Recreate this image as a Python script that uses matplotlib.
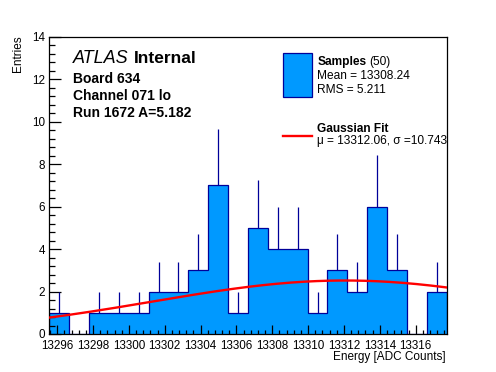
import numpy as np
import matplotlib
matplotlib.use("Agg")
import matplotlib.pyplot as plt
from matplotlib.patches import Rectangle
from matplotlib.lines import Line2D
from matplotlib.ticker import MultipleLocator

plt.rcParams['font.family'] = ['Liberation Sans', 'DejaVu Sans']

# ---- data ----
x_min, x_max = 13295.56, 13317.73
counts = [1, 0, 1, 1, 1, 2, 2, 3, 7, 1, 5, 4, 4, 1, 3, 2, 6, 3, 0, 2]
fit_amp = 2.52
fit_mu = 13312.06
fit_sigma = 10.743
n_samples = 50
mean_val = 13308.24
rms_val = 5.211
board_lines = ["Board 634", "Channel 071 lo", "Run 1672 A=5.182"]

W, H = 496, 372
fig = plt.figure(figsize=(W / 100, H / 100), dpi=100)
ax = fig.add_axes([49.3 / W, 1 - 334 / H, (446.7 - 49.3) / W, (334 - 36.8) / H])
renderer = fig.canvas.get_renderer()

counts = np.array(counts, dtype=float)
edges = np.linspace(x_min, x_max, len(counts) + 1)
centers = 0.5 * (edges[:-1] + edges[1:])

fill_c = '#0099ff'
edge_c = '#000099'
ax.stairs(counts, edges, fill=True, color=fill_c, zorder=1)
ax.stairs(counts, edges, fill=False, color=edge_c, linewidth=0.9, baseline=0, zorder=2)
mask = counts > 0
ax.vlines(centers[mask], counts[mask], counts[mask] + np.sqrt(counts[mask]),
          color=edge_c, linewidth=0.9, zorder=2)

xf = np.linspace(x_min, x_max, 200)
yf = fit_amp * np.exp(-0.5 * ((xf - fit_mu) / fit_sigma) ** 2)
ax.plot(xf, yf, color='red', linewidth=1.7, zorder=3)

ax.set_xlim(x_min, x_max)
ax.set_ylim(0, 14)
ax.xaxis.set_major_locator(MultipleLocator(2))
ax.xaxis.set_minor_locator(MultipleLocator(0.4))
ax.yaxis.set_major_locator(MultipleLocator(2))
ax.yaxis.set_minor_locator(MultipleLocator(0.4))
ax.ticklabel_format(useOffset=False, style='plain')
ax.tick_params(axis='x', which='major', direction='in', length=6.5, width=0.9, labelsize=8.4, pad=4.5)
ax.tick_params(axis='x', which='minor', direction='in', length=3.2, width=0.9)
ax.tick_params(axis='y', which='major', direction='in', length=8.6, width=0.9, labelsize=8.4, pad=3)
ax.tick_params(axis='y', which='minor', direction='in', length=4.3, width=0.9)
for s in ax.spines.values():
    s.set_linewidth(0.9)

# axis titles
fig.text(445.7 / W, 1 - 357 / H, "Energy [ADC Counts]", ha='right', va='center', fontsize=8.5)
fig.text(18 / W, 1 - 35 / H, "Entries", ha='center', va='top', rotation=90, fontsize=8.5)


def text_after(first, s, gap_px, **kw):
    bb = first.get_window_extent(renderer=renderer)
    x = (bb.x1 + gap_px) / W
    return fig.text(x, first.get_position()[1], s, **kw)


# ATLAS label
t_atlas = fig.text(73.3 / W, 1 - 58.3 / H, "ATLAS", ha='left', va='center', fontsize=13, style='italic')
text_after(t_atlas, "Internal", 4.5, ha='left', va='center', fontsize=12.5, weight='bold')
for i, t in enumerate(board_lines):
    y = [79, 96, 113.3][i]
    fig.text(73.3 / W, 1 - y / H, t, ha='left', va='center', fontsize=10, weight='bold')

# legend
fig.patches.append(Rectangle((283.3 / W, 1 - 96.7 / H), 28.4 / W, 43.4 / H,
                             transform=fig.transFigure, facecolor=fill_c,
                             edgecolor=edge_c, linewidth=0.9))
t_s = fig.text(317.3 / W, 1 - 61.7 / H, "Samples", ha='left', va='center', fontsize=8.6, weight='bold')
text_after(t_s, f"({n_samples})", 3, ha='left', va='center', fontsize=8.6)
fig.text(317.3 / W, 1 - 76 / H, f"Mean = {mean_val:.2f}", ha='left', va='center', fontsize=8.6)
fig.text(317.3 / W, 1 - 90 / H, f"RMS = {rms_val:.3f}", ha='left', va='center', fontsize=8.6)
fig.lines.append(Line2D([283.3 / W, 311.7 / W], [1 - 136 / H, 1 - 136 / H],
                        transform=fig.transFigure, color='red', linewidth=1.7))
fig.text(317.3 / W, 1 - 129.3 / H, "Gaussian Fit", ha='left', va='center', fontsize=8.6, weight='bold')
fig.text(317.3 / W, 1 - 141 / H, f"\u03bc = {fit_mu:.2f}, \u03c3 ={fit_sigma:.3f}",
         ha='left', va='center', fontsize=8.6)

fig.savefig("out.png", dpi=100, facecolor='white')
